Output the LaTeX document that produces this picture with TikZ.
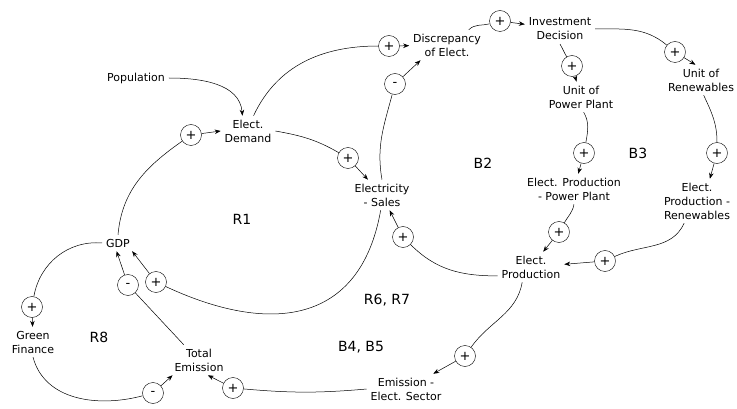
\documentclass[tikz,border=0pt]{standalone}
\usepackage{fontspec}
\setmainfont{DejaVu Sans}
\usetikzlibrary{arrows.meta}

\begin{document}
\begin{tikzpicture}[x=1pt,y=-1pt,>={Stealth[length=6pt,width=4.5pt]},
    every node/.style={font=\fontsize{11}{14}\selectfont}]
  \tikzset{var/.style={align=center,inner sep=1pt,outer sep=3pt},
           pol/.style={draw,circle,minimum size=21pt,inner sep=0pt,font=\fontsize{13}{13}\selectfont},
           looplbl/.style={font=\fontsize{14}{14}\selectfont},
           lnk/.style={line width=0.5pt}}
  \useasboundingbox (0,0) rectangle (737,409);
  % variables
  \node[var] (pop) at (136,78) {Population};
  \node[var] (dem) at (248,131) {Elect.\\Demand};
  \node[var] (sal) at (382,195) {Electricity\\- Sales};
  \node[var] (dis) at (447,45) {Discrepancy\\of Elect.};
  \node[var] (inv) at (560,29) {Investment\\Decision};
  \node[var] (upp) at (581,97) {Unit of\\Power Plant};
  \node[var] (ure) at (701,80) {Unit of\\Renewables};
  \node[var] (epp) at (574,189) {Elect. Production\\- Power Plant};
  \node[var] (ere) at (697,201) {Elect.\\Production -\\Renewables};
  \node[var] (epr) at (531,267) {Elect.\\Production};
  \node[var] (emi) at (406,389) {Emission -\\Elect. Sector};
  \node[var] (tot) at (199,360) {Total\\Emission};
  \node[var] (gdp) at (118,243) {GDP};
  \node[var] (gre) at (33,342) {Green\\Finance};
  % loop names
  \node[looplbl] (r1) at (242,219) {R1};
  \node[looplbl] (b2) at (483,163) {B2};
  \node[looplbl] (b3) at (638,153) {B3};
  \node[looplbl] (r67) at (387,300) {R6, R7};
  \node[looplbl] (b45) at (361,347) {B4, B5};
  \node[looplbl] (r8) at (99,337) {R8};
  % polarities
  \node[pol] (pGD) at (191,135) {+};
  \node[pol] (pDS) at (348,158) {+};
  \node[pol] (pDD) at (389,46) {+};
  \node[pol] (pSD) at (395,84) {-};
  \node[pol] (pDI) at (500,21) {+};
  \node[pol] (pIU) at (572,66) {+};
  \node[pol] (pIR) at (675,52) {+};
  \node[pol] (pUE) at (584,153) {+};
  \node[pol] (pRE) at (717,153) {+};
  \node[pol] (pPE) at (559,232) {+};
  \node[pol] (pRP) at (605,261) {+};
  \node[pol] (pPS) at (403,237) {+};
  \node[pol] (pPM) at (465,356) {+};
  \node[pol] (pMT) at (233,388) {+};
  \node[pol] (pTG) at (128,285) {-};
  \node[pol] (pSG) at (156,282) {+};
  \node[pol] (pGG) at (32,307) {+};
  \node[pol] (pGT) at (153,393) {-};
  % links
  \draw[->,lnk] (pop.east) to[out=0,in=95] (dem.110);
  \draw[lnk] (gdp.north) to[out=85,in=215] (pGD);
  \draw[->,lnk] (pGD) -- (dem.west);
  \draw[lnk] (dem.east) to[out=-10,in=150] (pDS);
  \draw[->,lnk] (pDS) -- (sal);
  \draw[lnk] (dem.70) to[out=65,in=180] (pDD);
  \draw[->,lnk] (pDD) -- (dis);
  \draw[lnk] (sal.north) to[out=100,in=-105] (pSD);
  \draw[->,lnk] (pSD) -- (dis.210);
  \draw[lnk] (dis.35) to[out=45,in=195] (pDI);
  \draw[->,lnk] (pDI) -- (inv);
  \draw[lnk] (inv.south) to[out=-60,in=120] (pIU);
  \draw[->,lnk] (pIU) -- (upp);
  \draw[lnk] (inv.east) to[out=0,in=140] (pIR);
  \draw[->,lnk] (pIR) -- (ure.110);
  \draw[lnk] (upp.-80) to[out=-60,in=80] (pUE);
  \draw[->,lnk] (pUE) -- (epp);
  \draw[lnk] (ure.-80) to[out=-65,in=90] (pRE);
  \draw[->,lnk] (pRE) -- (ere.60);
  \draw[lnk] (epp.south) to[out=-100,in=60] (pPE);
  \draw[->,lnk] (pPE) -- (epr);
  \draw[lnk] (ere.240) to[out=-115,in=25] (pRP);
  \draw[->,lnk] (pRP) -- (epr);
  \draw[lnk] (epr.195) to[out=180,in=-45] (pPS);
  \draw[->,lnk] (pPS) -- (sal);
  \draw[lnk] (epr.-120) to[out=-100,in=55] (pPM);
  \draw[->,lnk] (pPM) -- (emi);
  \draw[lnk] (emi.west) to[out=185,in=-5] (pMT);
  \draw[->,lnk] (pMT) -- (tot.-60);
  \draw[lnk] (tot.135) -- (pTG);
  \draw[->,lnk] (pTG) -- (gdp.-100);
  \draw[lnk] (sal.-95) to[out=-100,in=-25,looseness=1.3] (pSG);
  \draw[->,lnk] (pSG) -- (gdp.-30);
  \draw[lnk] (gdp.west) to[out=175,in=80] (pGG);
  \draw[->,lnk] (pGG) -- (gre);
  \draw[lnk] (gre.south) to[out=-75,in=195] (pGT);
  \draw[->,lnk] (pGT) -- (tot.210);
\end{tikzpicture}
\end{document}
